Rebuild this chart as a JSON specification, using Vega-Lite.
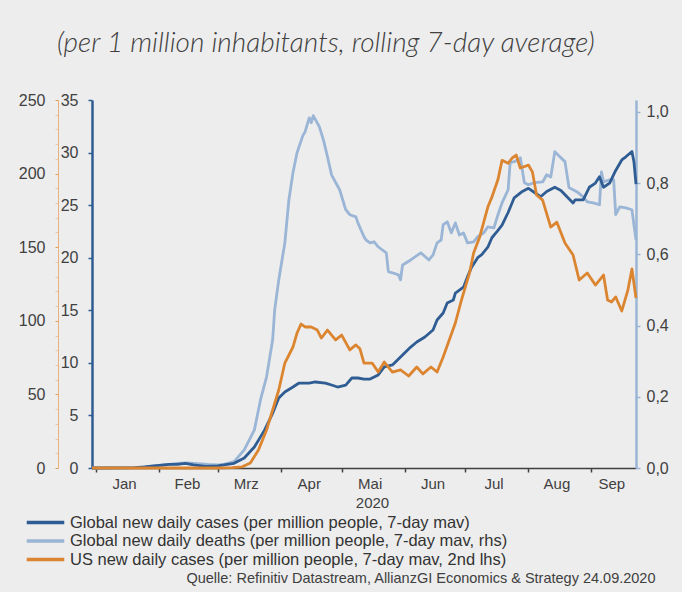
{
  "$schema": "https://vega.github.io/schema/vega-lite/v6.json",
  "width": 544,
  "height": 368,
  "autosize": {"type": "none"},
  "padding": {"left": 92, "top": 100, "right": 46, "bottom": 124},
  "background": "#EDEDED",
  "config": {
    "view": {"stroke": null},
    "font": "Liberation Sans",
    "axis": {"grid": false, "labelFont": "Liberation Sans", "titleFont": "Liberation Sans"}
  },
  "title": {
    "text": "(per 1 million inhabitants, rolling 7-day average)",
    "font": "Lato",
    "fontStyle": "italic",
    "fontWeight": 300,
    "fontSize": 28,
    "color": "#404040",
    "anchor": "start",
    "frame": "group",
    "dx": -35,
    "offset": 34
  },
  "datasets": {
    "cases": [
      {"date": "2019-12-30", "v": 0},
      {"date": "2020-01-10", "v": 0.01},
      {"date": "2020-01-20", "v": 0.03},
      {"date": "2020-01-25", "v": 0.1},
      {"date": "2020-02-01", "v": 0.25},
      {"date": "2020-02-06", "v": 0.35},
      {"date": "2020-02-10", "v": 0.35},
      {"date": "2020-02-14", "v": 0.45},
      {"date": "2020-02-18", "v": 0.3},
      {"date": "2020-02-24", "v": 0.15},
      {"date": "2020-03-01", "v": 0.2},
      {"date": "2020-03-04", "v": 0.3},
      {"date": "2020-03-09", "v": 0.45},
      {"date": "2020-03-14", "v": 0.95},
      {"date": "2020-03-19", "v": 2.0},
      {"date": "2020-03-24", "v": 3.6},
      {"date": "2020-03-28", "v": 5.2},
      {"date": "2020-03-31", "v": 6.66},
      {"date": "2020-04-03", "v": 7.23},
      {"date": "2020-04-07", "v": 7.7},
      {"date": "2020-04-10", "v": 8.08},
      {"date": "2020-04-15", "v": 8.08},
      {"date": "2020-04-18", "v": 8.18},
      {"date": "2020-04-23", "v": 8.08},
      {"date": "2020-04-26", "v": 7.89},
      {"date": "2020-04-29", "v": 7.7},
      {"date": "2020-05-03", "v": 7.89},
      {"date": "2020-05-06", "v": 8.56},
      {"date": "2020-05-09", "v": 8.56},
      {"date": "2020-05-12", "v": 8.46},
      {"date": "2020-05-15", "v": 8.46},
      {"date": "2020-05-19", "v": 8.85},
      {"date": "2020-05-22", "v": 9.61},
      {"date": "2020-05-26", "v": 9.8},
      {"date": "2020-05-31", "v": 10.75},
      {"date": "2020-06-04", "v": 11.5},
      {"date": "2020-06-07", "v": 11.98},
      {"date": "2020-06-11", "v": 12.46},
      {"date": "2020-06-15", "v": 13.13},
      {"date": "2020-06-17", "v": 14.08},
      {"date": "2020-06-20", "v": 14.74},
      {"date": "2020-06-22", "v": 15.69},
      {"date": "2020-06-25", "v": 15.98},
      {"date": "2020-06-26", "v": 16.64},
      {"date": "2020-06-30", "v": 17.2},
      {"date": "2020-07-02", "v": 18.2},
      {"date": "2020-07-04", "v": 19.1},
      {"date": "2020-07-07", "v": 20.0},
      {"date": "2020-07-09", "v": 20.3},
      {"date": "2020-07-12", "v": 21.0},
      {"date": "2020-07-14", "v": 21.9},
      {"date": "2020-07-17", "v": 22.6},
      {"date": "2020-07-19", "v": 23.1},
      {"date": "2020-07-22", "v": 24.3},
      {"date": "2020-07-25", "v": 25.7},
      {"date": "2020-07-29", "v": 26.3},
      {"date": "2020-08-01", "v": 26.6},
      {"date": "2020-08-04", "v": 26.2},
      {"date": "2020-08-07", "v": 25.8},
      {"date": "2020-08-10", "v": 26.3},
      {"date": "2020-08-14", "v": 26.7},
      {"date": "2020-08-17", "v": 26.4},
      {"date": "2020-08-20", "v": 25.8},
      {"date": "2020-08-23", "v": 25.2},
      {"date": "2020-08-24", "v": 25.5},
      {"date": "2020-08-28", "v": 25.5},
      {"date": "2020-08-31", "v": 26.7},
      {"date": "2020-09-03", "v": 27.1},
      {"date": "2020-09-05", "v": 27.7},
      {"date": "2020-09-07", "v": 26.7},
      {"date": "2020-09-10", "v": 27.1},
      {"date": "2020-09-13", "v": 28.3},
      {"date": "2020-09-16", "v": 29.3},
      {"date": "2020-09-18", "v": 29.6},
      {"date": "2020-09-21", "v": 30.1},
      {"date": "2020-09-22", "v": 29.1},
      {"date": "2020-09-23", "v": 27.0}
    ],
    "deaths": [
      {"date": "2019-12-30", "v": 0},
      {"date": "2020-01-15", "v": 0},
      {"date": "2020-01-22", "v": 0.001},
      {"date": "2020-01-28", "v": 0.005},
      {"date": "2020-02-04", "v": 0.009},
      {"date": "2020-02-10", "v": 0.013},
      {"date": "2020-02-15", "v": 0.014},
      {"date": "2020-02-20", "v": 0.012},
      {"date": "2020-02-25", "v": 0.01},
      {"date": "2020-03-01", "v": 0.009},
      {"date": "2020-03-04", "v": 0.01},
      {"date": "2020-03-09", "v": 0.018},
      {"date": "2020-03-14", "v": 0.051},
      {"date": "2020-03-19", "v": 0.107},
      {"date": "2020-03-22", "v": 0.191},
      {"date": "2020-03-25", "v": 0.256},
      {"date": "2020-03-28", "v": 0.36},
      {"date": "2020-03-29", "v": 0.444},
      {"date": "2020-03-31", "v": 0.528},
      {"date": "2020-04-03", "v": 0.632},
      {"date": "2020-04-05", "v": 0.753},
      {"date": "2020-04-07", "v": 0.829},
      {"date": "2020-04-09", "v": 0.885},
      {"date": "2020-04-12", "v": 0.935},
      {"date": "2020-04-13", "v": 0.944},
      {"date": "2020-04-15", "v": 0.983},
      {"date": "2020-04-16", "v": 0.969},
      {"date": "2020-04-17", "v": 0.989},
      {"date": "2020-04-20", "v": 0.958},
      {"date": "2020-04-22", "v": 0.921},
      {"date": "2020-04-24", "v": 0.874},
      {"date": "2020-04-26", "v": 0.823},
      {"date": "2020-04-30", "v": 0.781},
      {"date": "2020-05-03", "v": 0.725},
      {"date": "2020-05-05", "v": 0.711},
      {"date": "2020-05-08", "v": 0.705},
      {"date": "2020-05-09", "v": 0.688},
      {"date": "2020-05-12", "v": 0.649},
      {"date": "2020-05-13", "v": 0.64},
      {"date": "2020-05-15", "v": 0.632},
      {"date": "2020-05-17", "v": 0.635},
      {"date": "2020-05-19", "v": 0.621},
      {"date": "2020-05-21", "v": 0.612},
      {"date": "2020-05-23", "v": 0.604},
      {"date": "2020-05-24", "v": 0.551},
      {"date": "2020-05-26", "v": 0.548},
      {"date": "2020-05-29", "v": 0.542},
      {"date": "2020-05-30", "v": 0.528},
      {"date": "2020-05-31", "v": 0.57},
      {"date": "2020-06-04", "v": 0.584},
      {"date": "2020-06-09", "v": 0.604},
      {"date": "2020-06-13", "v": 0.584},
      {"date": "2020-06-15", "v": 0.598},
      {"date": "2020-06-17", "v": 0.632},
      {"date": "2020-06-19", "v": 0.64},
      {"date": "2020-06-20", "v": 0.683},
      {"date": "2020-06-22", "v": 0.691},
      {"date": "2020-06-24", "v": 0.66},
      {"date": "2020-06-26", "v": 0.688},
      {"date": "2020-06-28", "v": 0.654},
      {"date": "2020-06-30", "v": 0.66},
      {"date": "2020-07-02", "v": 0.632},
      {"date": "2020-07-05", "v": 0.635},
      {"date": "2020-07-07", "v": 0.649},
      {"date": "2020-07-10", "v": 0.66},
      {"date": "2020-07-12", "v": 0.677},
      {"date": "2020-07-15", "v": 0.674},
      {"date": "2020-07-17", "v": 0.711},
      {"date": "2020-07-19", "v": 0.744},
      {"date": "2020-07-22", "v": 0.781},
      {"date": "2020-07-23", "v": 0.857},
      {"date": "2020-07-25", "v": 0.86},
      {"date": "2020-07-27", "v": 0.865},
      {"date": "2020-07-28", "v": 0.871},
      {"date": "2020-07-30", "v": 0.801},
      {"date": "2020-08-01", "v": 0.795},
      {"date": "2020-08-04", "v": 0.801},
      {"date": "2020-08-08", "v": 0.803},
      {"date": "2020-08-10", "v": 0.823},
      {"date": "2020-08-12", "v": 0.817},
      {"date": "2020-08-14", "v": 0.888},
      {"date": "2020-08-17", "v": 0.871},
      {"date": "2020-08-19", "v": 0.86},
      {"date": "2020-08-21", "v": 0.787},
      {"date": "2020-08-23", "v": 0.781},
      {"date": "2020-08-25", "v": 0.775},
      {"date": "2020-08-28", "v": 0.761},
      {"date": "2020-08-30", "v": 0.747},
      {"date": "2020-09-02", "v": 0.744},
      {"date": "2020-09-05", "v": 0.739},
      {"date": "2020-09-06", "v": 0.831},
      {"date": "2020-09-07", "v": 0.803},
      {"date": "2020-09-10", "v": 0.809},
      {"date": "2020-09-12", "v": 0.809},
      {"date": "2020-09-13", "v": 0.711},
      {"date": "2020-09-15", "v": 0.733},
      {"date": "2020-09-18", "v": 0.73},
      {"date": "2020-09-21", "v": 0.725},
      {"date": "2020-09-23", "v": 0.64}
    ],
    "us": [
      {"date": "2019-12-30", "v": 0},
      {"date": "2020-03-01", "v": 0},
      {"date": "2020-03-08", "v": 0.2},
      {"date": "2020-03-13", "v": 0.8},
      {"date": "2020-03-17", "v": 3.4},
      {"date": "2020-03-21", "v": 12.2},
      {"date": "2020-03-25", "v": 25.8},
      {"date": "2020-03-28", "v": 39.4},
      {"date": "2020-03-31", "v": 53},
      {"date": "2020-04-03", "v": 71.3},
      {"date": "2020-04-07", "v": 82.2},
      {"date": "2020-04-09", "v": 91.7},
      {"date": "2020-04-11", "v": 97.8},
      {"date": "2020-04-13", "v": 95.8},
      {"date": "2020-04-16", "v": 95.8},
      {"date": "2020-04-19", "v": 93.7},
      {"date": "2020-04-21", "v": 88.3},
      {"date": "2020-04-24", "v": 93.7},
      {"date": "2020-04-28", "v": 87},
      {"date": "2020-05-01", "v": 90.3},
      {"date": "2020-05-05", "v": 80.2},
      {"date": "2020-05-08", "v": 83.6},
      {"date": "2020-05-10", "v": 81},
      {"date": "2020-05-12", "v": 71.3},
      {"date": "2020-05-16", "v": 71.3},
      {"date": "2020-05-19", "v": 65.2},
      {"date": "2020-05-22", "v": 72},
      {"date": "2020-05-26", "v": 65.2},
      {"date": "2020-05-30", "v": 66.6},
      {"date": "2020-06-03", "v": 62.5},
      {"date": "2020-06-07", "v": 68.6},
      {"date": "2020-06-10", "v": 63.9},
      {"date": "2020-06-14", "v": 68.6},
      {"date": "2020-06-17", "v": 65.2},
      {"date": "2020-06-20", "v": 75.4},
      {"date": "2020-06-23", "v": 87},
      {"date": "2020-06-26", "v": 98.5},
      {"date": "2020-06-29", "v": 114.1},
      {"date": "2020-07-03", "v": 132.5},
      {"date": "2020-07-05", "v": 146},
      {"date": "2020-07-08", "v": 157},
      {"date": "2020-07-12", "v": 177.3},
      {"date": "2020-07-14", "v": 184},
      {"date": "2020-07-17", "v": 196},
      {"date": "2020-07-19", "v": 209},
      {"date": "2020-07-22", "v": 207},
      {"date": "2020-07-24", "v": 210.6},
      {"date": "2020-07-26", "v": 212.6},
      {"date": "2020-07-28", "v": 203.8},
      {"date": "2020-08-01", "v": 205.8},
      {"date": "2020-08-03", "v": 201},
      {"date": "2020-08-05", "v": 185.5},
      {"date": "2020-08-08", "v": 182},
      {"date": "2020-08-12", "v": 163.7},
      {"date": "2020-08-15", "v": 167},
      {"date": "2020-08-19", "v": 152.8},
      {"date": "2020-08-23", "v": 144.7},
      {"date": "2020-08-26", "v": 127.7},
      {"date": "2020-08-30", "v": 132.5},
      {"date": "2020-09-03", "v": 124.3},
      {"date": "2020-09-07", "v": 131.1},
      {"date": "2020-09-09", "v": 114.1},
      {"date": "2020-09-11", "v": 112.8},
      {"date": "2020-09-13", "v": 116.2},
      {"date": "2020-09-16", "v": 106.7},
      {"date": "2020-09-19", "v": 120.9},
      {"date": "2020-09-21", "v": 135.2},
      {"date": "2020-09-23", "v": 115.5}
    ]
  },
  "layer": [
    {
      "data": {"name": "deaths"},
      "mark": {"type": "line", "strokeWidth": 2.8, "strokeJoin": "round"},
      "encoding": {
        "x": {
          "field": "date", "type": "temporal",
          "scale": {"type": "utc", "domain": [{"year": 2019, "month": 12, "date": 30, "utc": true}, {"year": 2020, "month": 9, "date": 23, "utc": true}]},
          "axis": {
            "orient": "bottom",
            "domain": false, "ticks": false, "labels": false,
            "title": "Quelle: Refinitiv Datastream, AllianzGI Economics & Strategy 24.09.2020",
            "titleFontSize": 14.5, "titleFontWeight": "normal", "titleColor": "#404040",
            "titleX": 563, "titleY": 110, "titleAlign": "right", "titleBaseline": "middle"
          }
        },
        "y": {
          "field": "v", "type": "quantitative",
          "scale": {"domain": [0, 1.033], "nice": false},
          "axis": {
            "orient": "right", "title": null,
            "values": [0, 0.2, 0.4, 0.6, 0.8, 1.0],
            "labelExpr": "replace(format(datum.value, '.1f'), '.', ',')",
            "domainColor": "#9AB5D5", "domainWidth": 2.5,
            "tickColor": "#9AB5D5", "tickSize": 4, "tickWidth": 1.5,
            "labelFontSize": 16, "labelColor": "#404040", "labelPadding": 6
          }
        },
        "color": {
          "datum": "Global new daily deaths (per million people, 7-day mav, rhs)",
          "type": "nominal",
          "scale": {
            "domain": [
              "Global new daily cases (per million people, 7-day mav)",
              "Global new daily deaths (per million people, 7-day mav, rhs)",
              "US new daily cases (per million people, 7-day mav, 2nd lhs)"
            ],
            "range": ["#2F5D93", "#9AB5D5", "#DC8530"]
          },
          "legend": {
            "orient": "none", "legendX": -56, "legendY": 413,
            "title": null,
            "symbolType": "M-2.5,0H2.5", "symbolSize": 225, "symbolStrokeWidth": 3.5,
            "labelFontSize": 16.5, "labelColor": "#333333", "labelLimit": 700,
            "labelOffset": 15, "rowPadding": 0.5, "padding": 0
          }
        }
      }
    },
    {
      "data": {"name": "cases"},
      "mark": {"type": "line", "strokeWidth": 2.8, "strokeJoin": "round"},
      "encoding": {
        "x": {
          "field": "date", "type": "temporal",
          "scale": {"type": "utc", "domain": [{"year": 2019, "month": 12, "date": 30, "utc": true}, {"year": 2020, "month": 9, "date": 23, "utc": true}]},
          "axis": {
            "orient": "bottom",
            "values": [
              {"year": 2020, "month": 1, "date": 1, "utc": true},
              {"year": 2020, "month": 2, "date": 1, "utc": true},
              {"year": 2020, "month": 3, "date": 1, "utc": true},
              {"year": 2020, "month": 4, "date": 1, "utc": true},
              {"year": 2020, "month": 5, "date": 1, "utc": true},
              {"year": 2020, "month": 6, "date": 1, "utc": true},
              {"year": 2020, "month": 7, "date": 1, "utc": true},
              {"year": 2020, "month": 8, "date": 1, "utc": true},
              {"year": 2020, "month": 9, "date": 1, "utc": true}
            ],
            "labelExpr": "['Jan','Feb','Mrz','Apr','Mai','Jun','Jul','Aug','Sep','Okt','Nov','Dez'][utcmonth(datum.value)]",
            "labelOffset": {"condition": {"test": "utcmonth(datum.value) == 8", "value": 20}, "value": 28},
            "labelOverlap": false,
            "domainColor": "#404040", "domainWidth": 1.5,
            "tickColor": "#404040", "tickSize": 4, "tickWidth": 1.5,
            "labelFontSize": 15, "labelColor": "#404040", "labelPadding": 4,
            "title": "2020", "titleFontSize": 15, "titleFontWeight": "normal",
            "titleColor": "#404040", "titlePadding": 4, "titleX": 280
          }
        },
        "y": {
          "field": "v", "type": "quantitative",
          "scale": {"domain": [0, 35], "nice": false},
          "axis": {
            "orient": "left", "title": null,
            "values": [0, 5, 10, 15, 20, 25, 30, 35],
            "domainColor": "#2F5D93", "domainWidth": 2.5,
            "tickColor": "#2F5D93", "tickSize": 4, "tickWidth": 1.5,
            "labelFontSize": 16, "labelColor": "#404040", "labelPadding": 10
          }
        },
        "color": {"datum": "Global new daily cases (per million people, 7-day mav)", "type": "nominal"}
      }
    },
    {
      "data": {"name": "us"},
      "mark": {"type": "line", "strokeWidth": 2.8, "strokeJoin": "round"},
      "encoding": {
        "x": {
          "field": "date", "type": "temporal",
          "scale": {"type": "utc", "domain": [{"year": 2019, "month": 12, "date": 30, "utc": true}, {"year": 2020, "month": 9, "date": 23, "utc": true}]},
          "axis": null
        },
        "y": {
          "field": "v", "type": "quantitative",
          "scale": {"domain": [0, 250], "nice": false},
          "axis": {
            "orient": "left", "offset": 34, "title": null,
            "values": [0, 10, 20, 30, 40, 50, 60, 70, 80, 90, 100, 110, 120, 130, 140, 150, 160, 170, 180, 190, 200, 210, 220, 230, 240, 250],
            "labelExpr": "datum.value % 50 === 0 ? datum.label : ''",
            "domainColor": "#E9B27C", "domainWidth": 1,
            "tickColor": {"condition": {"test": "datum.value % 50 === 0", "value": "#E39A52"}, "value": "#EBC9A6"},
            "tickSize": 3, "tickWidth": 1,
            "labelFontSize": 16, "labelColor": "#404040", "labelPadding": 10
          }
        },
        "color": {"datum": "US new daily cases (per million people, 7-day mav, 2nd lhs)", "type": "nominal"}
      }
    }
  ],
  "resolve": {"scale": {"y": "independent"}, "axis": {"x": "independent", "y": "independent"}}
}
